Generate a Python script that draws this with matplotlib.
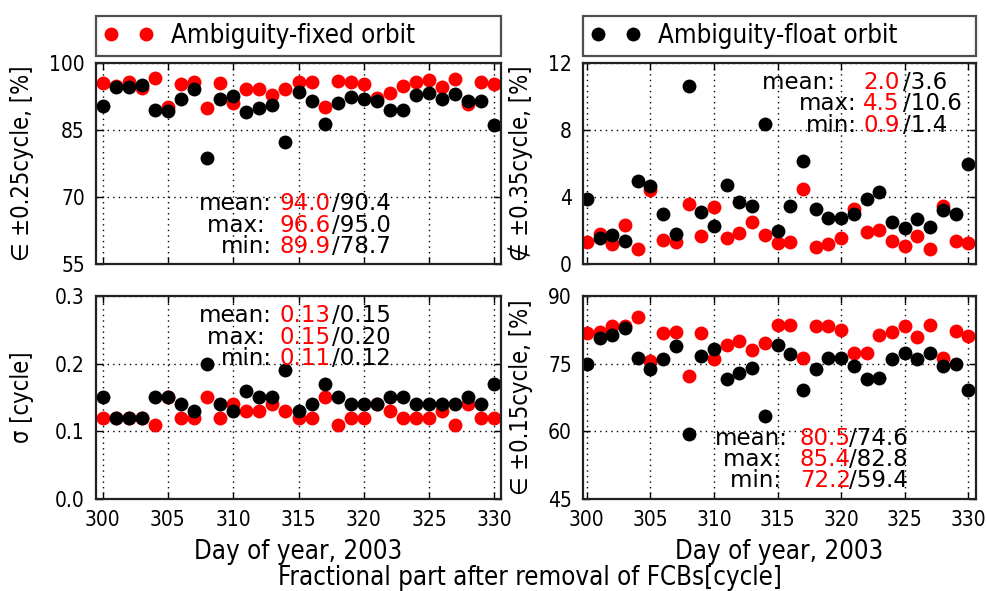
import matplotlib
matplotlib.use("Agg")
import matplotlib.pyplot as plt
from matplotlib.ticker import FixedLocator, FormatStrFormatter

# day of year 2003
days = list(range(300, 331))

# in +-0.25 cycle [%]
fixed_in25 = [95.5, 94.7, 95.6, 94.4, 96.6, 90.2, 95.2, 95.8, 89.9, 95.4, 91.0,
              94.1, 94.1, 92.9, 94.2, 95.8, 95.8, 90.2, 96.0, 95.8, 95.2,
              92.2, 93.3, 94.8, 95.8, 96.2, 94.5, 96.4, 90.8, 95.6, 95.2]
float_in25 = [90.3, 94.5, 94.5, 95.0, 89.5, 89.3, 91.9, 94.2, 78.7, 91.9, 92.5,
              88.9, 89.8, 90.6, 82.2, 93.5, 91.4, 86.4, 91.0, 92.4, 91.9,
              91.4, 89.5, 89.5, 92.7, 93.2, 92.0, 93.0, 91.4, 91.4, 86.0]

# not in +-0.35 cycle [%]
fixed_out35 = [1.31, 1.83, 1.23, 2.31, 0.9, 4.40, 1.47, 1.31, 3.6, 1.67, 3.4,
               1.57, 1.87, 2.51, 1.77, 1.27, 1.31, 4.5, 1.03, 1.23, 1.57,
               3.30, 1.91, 2.03, 1.37, 1.07, 1.71, 0.9, 3.5, 1.37, 1.27]
float_out35 = [3.86, 1.57, 1.77, 1.4, 4.96, 4.66, 2.97, 1.83, 10.6, 3.1, 2.27,
               4.70, 3.70, 3.46, 8.34, 2.01, 3.50, 6.15, 3.30, 2.77, 2.77,
               3.0, 3.86, 4.30, 2.51, 2.17, 2.71, 2.23, 3.22, 2.97, 6.0]

# sigma [cycle]
fixed_sigma = [0.12, 0.12, 0.12, 0.12, 0.11, 0.15, 0.12, 0.12, 0.15, 0.12, 0.14,
               0.13, 0.13, 0.14, 0.13, 0.12, 0.12, 0.15, 0.11, 0.12, 0.12,
               0.14, 0.13, 0.12, 0.12, 0.12, 0.13, 0.11, 0.14, 0.12, 0.12]
float_sigma = [0.15, 0.12, 0.12, 0.12, 0.15, 0.15, 0.14, 0.13, 0.20, 0.14, 0.13,
               0.16, 0.15, 0.15, 0.19, 0.13, 0.14, 0.17, 0.15, 0.14, 0.14,
               0.14, 0.15, 0.15, 0.14, 0.14, 0.14, 0.14, 0.15, 0.14, 0.17]

# in +-0.15 cycle [%]
fixed_in15 = [81.8, 81.9, 83.3, 83.3, 85.4, 75.5, 81.8, 81.9, 72.2, 81.8, 76.0,
              79.0, 80.0, 78.1, 79.6, 83.6, 83.6, 76.3, 83.3, 83.3, 82.4,
              77.4, 77.4, 81.4, 81.9, 83.3, 80.9, 83.6, 76.3, 82.2, 81.2]
float_in15 = [74.8, 80.7, 81.4, 82.8, 76.3, 73.7, 75.9, 78.8, 59.4, 76.6, 78.3,
              71.6, 72.9, 74.0, 63.5, 79.2, 77.2, 69.1, 73.8, 76.3, 76.3,
              74.4, 71.6, 71.8, 75.9, 77.4, 76.0, 77.4, 74.4, 74.8, 69.1]

# statistics text (fixed / float): mean, max, min
stats_in25 = [("94.0", "90.4"), ("96.6", "95.0"), ("89.9", "78.7")]
stats_out35 = [("2.0", "3.6"), ("4.5", "10.6"), ("0.9", "1.4")]
stats_sigma = [("0.13", "0.15"), ("0.15", "0.20"), ("0.11", "0.12")]
stats_in15 = [("80.5", "74.6"), ("85.4", "82.8"), ("72.2", "59.4")]

yticks_in25 = [55, 70, 85, 100]
yticks_out35 = [0, 4, 8, 12]
yticks_sigma = [0.0, 0.1, 0.2, 0.3]
yticks_in15 = [45, 60, 75, 90]
xticks = [300, 305, 310, 315, 320, 325, 330]

COND = dict(family="DejaVu Sans", stretch="condensed")
W, H = 986.0, 591.0


def box(x0, x1, y0, y1):
    return [x0 / W, 1 - y1 / H, (x1 - x0) / W, (y1 - y0) / H]


def style(ax, yticks, ylim, xlim, ylabel, labx, fmt=None):
    ax.set_xlim(*xlim)
    ax.set_ylim(*ylim)
    ax.xaxis.set_major_locator(FixedLocator(xticks))
    ax.yaxis.set_major_locator(FixedLocator(yticks))
    if fmt:
        ax.yaxis.set_major_formatter(FormatStrFormatter(fmt))
    ax.grid(True, color="k", linestyle=(0, (1, 3)), linewidth=1.0)
    ax.tick_params(direction="in", top=True, right=True, length=5, width=1,
                   labelsize=15)
    ax.tick_params(axis="y", pad=8)
    ax.tick_params(axis="x", pad=8)
    for lab in ax.get_xticklabels() + ax.get_yticklabels():
        lab.set_fontproperties(dict(COND, size=15))
    for sp in ax.spines.values():
        sp.set_linewidth(1.6)
        sp.set_color("#222222")
    ax.set_ylabel(ylabel, fontdict=dict(COND, size=17))
    ax.yaxis.set_label_coords(labx, 0.5)


def stats(ax, vals, names, xname, xred, xblack, y):
    # one text block per column: names, fixed values (red), float values
    # y is the baseline of the last line (min)
    kw = dict(transform=ax.transAxes, va="baseline", fontsize=16.5,
              linespacing=0.91)
    ax.text(xname, y, "\n".join(names), ha="right", multialignment="right",
            color="k", **kw)
    ax.text(xred, y, "\n".join(v[0] for v in vals), ha="left",
            multialignment="left", color="red", **kw)
    ax.text(xblack, y, "\n".join("/" + v[1] for v in vals), ha="left",
            multialignment="left", color="k", **kw)


fig = plt.figure(figsize=(9.86, 5.91), dpi=100)
ax1 = fig.add_axes(box(96, 501, 62.7, 264.3))
ax2 = fig.add_axes(box(583, 976, 62.7, 264.3))
ax3 = fig.add_axes(box(96, 501, 295.7, 499.3))
ax4 = fig.add_axes(box(583, 976, 295.7, 499.3))

mk = dict(linestyle="none", marker="o", markersize=10, markeredgewidth=0)
pairs = [(ax1, fixed_in25, float_in25), (ax2, fixed_out35, float_out35),
         (ax3, fixed_sigma, float_sigma), (ax4, fixed_in15, float_in15)]
for ax, red, black in pairs:
    ax.plot(days, red, color="red", label="Ambiguity-fixed orbit", **mk)
    ax.plot(days, black, color="black", label="Ambiguity-float orbit", **mk)

style(ax1, yticks_in25, (55, 100), (299.5, 330.5), "\u2208 \u00b10.25cycle, [%]", -0.152)
style(ax2, yticks_out35, (0, 12), (299.7, 330.6), "\u2209 \u00b10.35cycle, [%]", -0.127)
style(ax3, yticks_sigma, (0, 0.3), (299.5, 330.5), "\u03c3 [cycle]", -0.152, "%.1f")
style(ax4, yticks_in15, (45, 90), (299.7, 330.6), "\u2208 \u00b10.15cycle, [%]", -0.127)

ax1.tick_params(labelbottom=False)
ax2.tick_params(labelbottom=False)
ax3.set_xlabel("Day of year, 2003", fontdict=dict(COND, size=18.5), labelpad=6)
ax4.set_xlabel("Day of year, 2003", fontdict=dict(COND, size=18.5), labelpad=6)

stats(ax1, stats_in25, ["mean:", "max: ", "min:"], 0.434, 0.454, 0.582, 0.056)
stats(ax2, stats_out35, ["mean:   ", "max:", "min:"], 0.697, 0.713, 0.814, 0.658)
stats(ax3, stats_sigma, ["mean:", "max: ", "min:"], 0.434, 0.454, 0.582, 0.660)
stats(ax4, stats_in15, ["mean:", "max: ", "min: "], 0.522, 0.552, 0.677, 0.059)

# legends above the top panels
h1 = ax1.get_lines()[0]
h2 = ax2.get_lines()[1]
for ax, h in [(ax1, h1), (ax2, h2)]:
    leg = ax.legend([h], [h.get_label()], loc="lower left",
                    bbox_to_anchor=(0, 1.033, 1, 0.217), mode="expand",
                    borderaxespad=0, numpoints=2, handlelength=1.95,
                    handletextpad=0.7, borderpad=0.28, fancybox=False,
                    prop=dict(COND, size=18.5))
    leg.get_frame().set_edgecolor("#222222")
    leg.get_frame().set_linewidth(1.6)

fig.text(530 / W, 1 - 578 / H, "Fractional part after removal of FCBs[cycle]",
         ha="center", va="center", fontdict=dict(COND, size=18.5))

fig.savefig("out.png", dpi=100)
